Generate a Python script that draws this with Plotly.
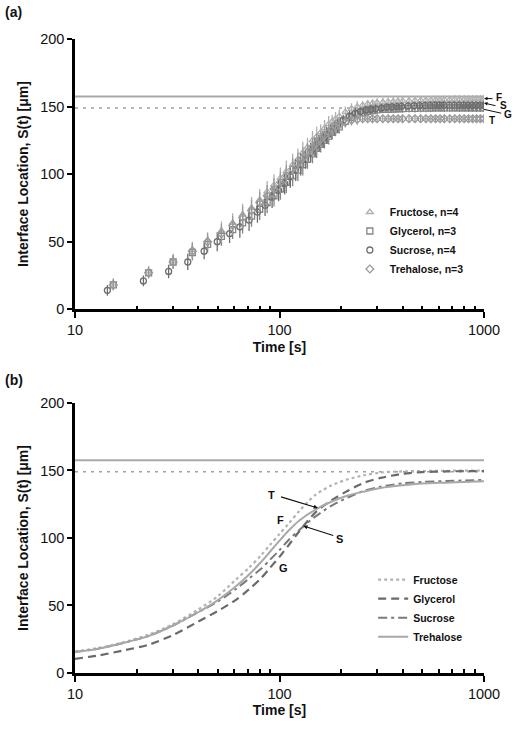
import plotly.graph_objects as go
from plotly.subplots import make_subplots

# ---------------- Panel (a): measured data ----------------
t_a = [15.4, 22.9, 30.2, 37.5, 44.5, 52, 59, 66, 73, 80,
       87, 94, 101, 108, 116, 123, 130, 137, 145, 152,
       159, 166, 174, 181, 188, 196, 210, 225, 240, 255,
       270, 285, 300, 320, 340, 360, 380, 400, 430, 460,
       490, 520, 550, 580, 610, 640, 680, 720, 760, 800,
       840, 880, 920, 960, 1000]
t_sucrose = [14.4, 21.6, 28.7, 35.6, 42.8, 49.6, 57, 64, 71, 78,
             85, 92, 99, 106, 113, 120, 127, 134, 142, 149,
             156, 163, 170, 178, 185, 192, 205, 220, 235, 250,
             265, 280, 295, 315, 335, 355, 375, 395, 425, 455,
             485, 515, 545, 575, 605, 635, 675, 715, 755, 795,
             835, 875, 915, 955, 995]
fructose_a = [19, 28, 36, 44, 51, 58, 64, 70, 75, 81,
              87, 92, 97, 102, 107, 111, 116, 120, 125, 128,
              131, 134, 137, 139, 141, 143, 146, 148.5, 150, 151,
              152, 152.5, 153, 153.3, 153.6, 153.8, 154, 154.2, 154.4, 154.6,
              154.7, 154.8, 154.9, 155, 155, 155.1, 155.2, 155.3, 155.3, 155.4,
              155.4, 155.5, 155.5, 155.5, 155.5]
glycerol_a = [18, 27, 35, 42, 48, 54, 59, 64, 69, 74,
              79, 84, 89, 94, 99, 103, 107, 111, 115, 119,
              122, 125, 128, 131, 133, 135, 139, 142, 144, 145.5,
              146.5, 147, 147.5, 148, 148, 148.2, 148.4, 148.5, 148.6, 148.7,
              148.8, 148.8, 148.9, 149, 149, 149, 149, 149, 149, 149,
              149, 149, 149, 149, 149]
sucrose_a = [14, 21, 28, 35, 43, 50, 56, 61, 66, 72,
             77, 83, 88, 93, 98, 103, 107, 111, 116, 120,
             123, 126, 129, 132, 134, 136, 140, 143, 145, 146.5,
             147.5, 148, 148.5, 149, 149.5, 149.8, 150, 150.2, 150.4, 150.6,
             150.7, 150.8, 150.9, 151, 151, 151, 151, 151, 151, 151,
             151, 151, 151, 151, 151]
trehalose_a = [18, 27, 35, 43, 50, 56, 62, 68, 73, 79,
               84, 89, 94, 99, 104, 108, 112, 116, 120, 123,
               126, 129, 131, 133, 135, 136.5, 138.5, 140, 140.5, 141,
               141, 141, 141, 141, 141, 141, 141, 141, 141, 141,
               141, 141, 141, 141, 141, 141, 141, 141, 141, 141,
               141, 141, 141, 141, 141]
err_a = [4, 4, 5, 6, 6, 7, 7, 8, 8, 8,
         8, 8, 8, 8, 8, 8, 8, 7, 7, 7,
         6, 6, 6, 5, 5, 5, 4, 4, 4, 3,
         3, 3, 3, 3, 3, 3, 3, 3, 3, 3,
         3, 3, 3, 3, 3, 3, 3, 3, 3, 3,
         3, 3, 3, 3, 3]

# ---------------- Panel (b): model curves ----------------
t_b = [10, 13, 17, 23, 30, 40, 50, 61, 71, 81, 90, 100, 110, 125, 150,
       180, 216, 260, 312, 400, 500, 650, 800, 1000]
fructose_b = [16, 18.5, 22.5, 28.5, 36, 47, 57, 69, 78, 87, 95, 103, 110, 120, 132,
              139, 143.5, 146.5, 148.5, 149.3, 149.6, 149.8, 149.9, 150]
glycerol_b = [10.5, 13, 16.5, 21, 28, 38, 46, 54, 62, 70, 78, 86, 94, 105, 119,
              128, 135, 141, 144.5, 147.5, 148.8, 149.3, 149.5, 149.6]
sucrose_b = [15.5, 18, 22, 27.5, 35, 45, 53, 62, 70, 77, 84, 91, 98, 106, 116,
             124, 130, 135, 138, 140.5, 141.5, 142.2, 142.6, 143]
trehalose_b = [15.5, 18, 22, 27.5, 35, 45, 54, 64, 73, 82, 90, 98, 105, 113, 121,
               127, 131.5, 134.5, 137, 139, 140.3, 141, 141.5, 142]

ref_solid = 157.5
ref_dotted = 149
x_span = [10, 1000]

names_a = ["Fructose, n=4", "Glycerol, n=3", "Sucrose, n=4", "Trehalose, n=3"]
names_b = ["Fructose", "Glycerol", "Sucrose", "Trehalose"]
major_ticks = [10, 100, 1000]
minor_ticks = [20, 30, 40, 50, 60, 70, 80, 90, 200, 300, 400, 500, 600, 700, 800, 900]
y_ticks = [0, 50, 100, 150, 200]

FONT = "Liberation Sans, Arial, sans-serif"

fig = make_subplots(rows=2, cols=1)

for row in (1, 2):
    fig.add_trace(go.Scatter(x=x_span, y=[ref_solid, ref_solid], mode="lines",
                             line=dict(color="#a8a8a8", width=2), showlegend=False,
                             hoverinfo="skip"), row=row, col=1)
    fig.add_trace(go.Scatter(x=x_span, y=[ref_dotted, ref_dotted], mode="lines",
                             line=dict(color="#a0a0a0", width=1.5, dash="3px,5px"),
                             showlegend=False, hoverinfo="skip"), row=row, col=1)

series_a = [
    (t_a, fructose_a, "triangle-up-open", "#b0b0b0"),
    (t_a, glycerol_a, "square-open", "#858585"),
    (t_sucrose, sucrose_a, "circle-open", "#6e6e6e"),
    (t_a, trehalose_a, "diamond-open", "#9a9a9a"),
]
for (tt, vv, sym, col), nm in zip(series_a, names_a):
    fig.add_trace(go.Scatter(
        x=tt, y=vv, mode="markers", name=nm, legend="legend",
        marker=dict(symbol=sym, size=6, color=col, line=dict(color=col, width=1.3)),
        error_y=dict(type="data", array=err_a, color=col, thickness=1.3, width=0),
    ), row=1, col=1)

series_b = [
    (fructose_b, "#b3b3b3", "dot", 2.2),
    (glycerol_b, "#6a6a6a", "8px,5px", 2.2),
    (sucrose_b, "#7a7a7a", "9px,4px,3px,4px", 2.0),
    (trehalose_b, "#a8a8a8", "solid", 2.0),
]
for (vv, col, dash, w), nm in zip(series_b, names_b):
    fig.add_trace(go.Scatter(
        x=t_b, y=vv, mode="lines", name=nm, legend="legend2",
        line=dict(color=col, dash=dash, width=w, shape="spline", smoothing=0.8),
    ), row=2, col=1)

axis_common = dict(showline=True, linecolor="black", linewidth=2.5, mirror=False,
                   showgrid=False, zeroline=False, ticks="outside", tickcolor="black",
                   tickwidth=2, tickfont=dict(family=FONT, size=14.5, color="#111"))

for r, dom in ((1, [0.5737, 1.0]), (2, [0.0, 0.4259])):
    fig.update_xaxes(type="log", range=[1, 3], tickvals=major_ticks,
                     ticktext=[str(v) for v in major_ticks], ticklen=6,
                     minor=dict(tickvals=minor_ticks, ticks="inside", ticklen=4,
                                tickwidth=2, tickcolor="black", showgrid=False),
                     title=dict(text="<b>Time [s]</b>", standoff=5,
                                font=dict(family=FONT, size=14, color="#111")),
                     row=r, col=1, **axis_common)
    fig.update_yaxes(range=[0, 200], tickvals=y_ticks, ticklen=5, domain=dom,
                     title=dict(text="<b>Interface Location, S(t) [\u03bcm]</b>", standoff=9,
                                font=dict(family=FONT, size=14, color="#111")),
                     row=r, col=1, **axis_common)

fig.update_layout(
    width=512, height=735,
    margin=dict(l=75, r=23, t=39, b=62),
    paper_bgcolor="white", plot_bgcolor="white",
    font=dict(family=FONT, color="#111"),
    legend=dict(x=0.672, y=0.750, xanchor="left", yanchor="top", bgcolor="rgba(0,0,0,0)",
                font=dict(family=FONT, size=10.5, color="#111", weight="bold"),
                tracegroupgap=0, itemwidth=30),
    legend2=dict(x=0.729, y=0.170, xanchor="left", yanchor="top", bgcolor="rgba(0,0,0,0)",
                 font=dict(family=FONT, size=10.5, color="#111", weight="bold"),
                 tracegroupgap=0, itemwidth=30),
)

# panel labels
fig.add_annotation(text="<b>(a)</b>", xref="paper", yref="paper", x=-0.176, y=1.0426,
                   xanchor="left", yanchor="middle", showarrow=False,
                   font=dict(family=FONT, size=14, color="#111"))
fig.add_annotation(text="<b>(b)</b>", xref="paper", yref="paper", x=-0.176, y=0.462,
                   xanchor="left", yanchor="middle", showarrow=False,
                   font=dict(family=FONT, size=14, color="#111"))

ann_font = dict(family=FONT, size=11, color="#111")
end_font = dict(family=FONT, size=10, color="#111")

# panel (a) end labels (paper coordinates, right of the plot area)
for txt, lx, ly in (("F", 1.024, 0.907), ("S", 1.034, 0.895), ("G", 1.044, 0.881), ("T", 1.008, 0.871)):
    fig.add_annotation(text=f"<b>{txt}</b>", x=lx, y=ly, xref="paper", yref="paper",
                       showarrow=False, xanchor="left", yanchor="middle", font=end_font)
fig.add_annotation(x=1.0, y=0.906, ax=10, ay=0, xref="paper", yref="paper",
                   axref="pixel", ayref="pixel", showarrow=True, arrowhead=2, arrowsize=0.7,
                   arrowwidth=1, arrowcolor="#111", text="")
fig.add_annotation(x=1.0, y=0.899, ax=13, ay=3, xref="paper", yref="paper",
                   axref="pixel", ayref="pixel", showarrow=True, arrowhead=2, arrowsize=0.7,
                   arrowwidth=1, arrowcolor="#111", text="")
fig.add_shape(type="line", x0=1.0, y0=0.889, x1=1.042, y1=0.883, xref="paper", yref="paper",
              line=dict(color="#111", width=1))

# panel (b) labels
fig.add_annotation(text="<b>T</b>", x=1.96, y=132, xref="x2", yref="y2", showarrow=False,
                   font=ann_font)
fig.add_annotation(x=2.188, y=122.2, ax=2.0, ay=130.8, xref="x2", yref="y2", axref="x2", ayref="y2",
                   showarrow=True, arrowhead=2, arrowsize=0.7, arrowwidth=1.2, arrowcolor="#111", text="")
fig.add_annotation(text="<b>F</b>", x=2.005, y=113.3, xref="x2", yref="y2", showarrow=False,
                   font=ann_font)
fig.add_annotation(text="<b>S</b>", x=2.295, y=99.3, xref="x2", yref="y2", showarrow=False,
                   font=ann_font)
fig.add_annotation(x=2.116, y=108.9, ax=2.27, ay=101.5, xref="x2", yref="y2", axref="x2", ayref="y2",
                   showarrow=True, arrowhead=2, arrowsize=0.7, arrowwidth=1.2, arrowcolor="#111", text="")
fig.add_annotation(text="<b>G</b>", x=2.02, y=77.8, xref="x2", yref="y2", showarrow=False,
                   font=ann_font)

# remove the browser's default 8px page margin so the figure starts at the window corner
fig.write_html("out.html", config={"displayModeBar": False},
               post_script="document.body.style.margin='0';")
